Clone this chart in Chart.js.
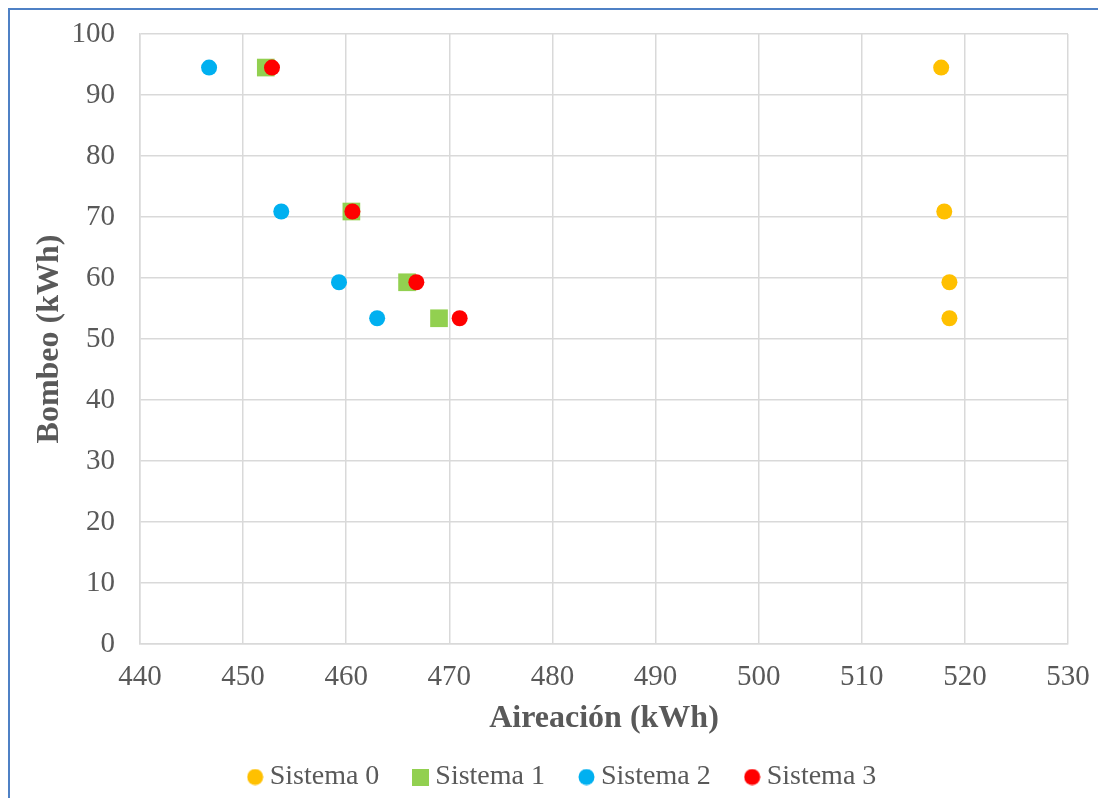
<!DOCTYPE html>
<html>
<head>
<meta charset="utf-8">
<script src="https://cdn.jsdelivr.net/npm/chart.js@4.4.1/dist/chart.umd.min.js"></script>
<style>
  html, body { margin: 0; padding: 0; background: #ffffff; overflow: hidden; }
  #frame { position: absolute; left: 8px; top: 8px; width: 3000px; height: 3000px;
           border-left: 2px solid #4f81c5; border-top: 2px solid #4f81c5; }
  #c { position: absolute; left: 0; top: 0; }
</style>
</head>
<body>
<div id="frame"></div>
<canvas id="c" width="1098" height="798"></canvas>
<script>
const seriesNames = ['Sistema 0', 'Sistema 1', 'Sistema 2', 'Sistema 3'];
const bombeo      = [94.5, 70.9, 59.3, 53.4];
const aireacion0  = [517.7, 518.0, 518.5, 518.5];
const aireacion1  = [452.2, 460.5, 465.9, 469.0];
const aireacion2  = [446.7, 453.7, 459.3, 463.0];
const aireacion3  = [452.8, 460.6, 466.8, 471.0];
const xTicks = [440, 450, 460, 470, 480, 490, 500, 510, 520, 530];
const yTicks = [0, 10, 20, 30, 40, 50, 60, 70, 80, 90, 100];

const colors = ['#FFC000', '#92D050', '#00B0F0', '#FF0000'];
const styles = ['circle', 'rect', 'circle', 'circle'];
const radii  = [8, 12.5, 8, 8];
const drawOrder = [3, 2, 1, 0];
const xs = [aireacion0, aireacion1, aireacion2, aireacion3];

function toPts(xArr) { return xArr.map((x, i) => ({ x: x, y: bombeo[i] })); }

function markerCanvas(style, color) {
  const cv = document.createElement('canvas');
  cv.width = 17; cv.height = 17;
  const g = cv.getContext('2d');
  g.fillStyle = color;
  if (style === 'rect') { g.fillRect(0, 0, 17, 17); }
  else { g.beginPath(); g.arc(8.5, 8.5, 8, 0, Math.PI * 2); g.fill(); }
  return cv;
}

const datasets = seriesNames.map((name, k) => ({
  label: name,
  data: toPts(xs[k]),
  pointStyle: styles[k],
  pointRadius: radii[k],
  pointHoverRadius: radii[k],
  backgroundColor: colors[k],
  borderColor: colors[k],
  borderWidth: 0,
  showLine: false,
  order: drawOrder[k]
}));

const tickFont = { family: 'Liberation Serif', size: 29 };
const titleFont = { family: 'Liberation Serif', size: 32, weight: 'bold' };
const gray = '#595959';
const gridColor = '#d9d9d9';
const noTick = 'rgba(0,0,0,0)';

new Chart(document.getElementById('c'), {
  type: 'scatter',
  data: { datasets: datasets },
  options: {
    responsive: false,
    animation: false,
    devicePixelRatio: 1,
    layout: { padding: { left: 63, right: 30, top: 34, bottom: -3 } },
    plugins: {
      tooltip: { enabled: false },
      legend: {
        position: 'bottom',
        labels: {
          font: { family: 'Liberation Serif', size: 28 },
          color: gray,
          usePointStyle: true,
          boxWidth: 1,
          boxHeight: 17,
          padding: 41,
          sort: (a, b) => a.datasetIndex - b.datasetIndex,
          generateLabels: (chart) => {
            const items = Chart.defaults.plugins.legend.labels.generateLabels(chart);
            items.forEach(it => {
              const k = it.datasetIndex;
              it.pointStyle = markerCanvas(styles[k], colors[k]);
            });
            return items;
          }
        }
      }
    },
    scales: {
      x: {
        type: 'linear',
        min: 440, max: 530,
        afterBuildTicks: (s) => { s.ticks = xTicks.map(v => ({ value: v })); },
        afterFit: (s) => { s.height = 78; },
        ticks: { font: tickFont, color: gray, padding: 3 },
        grid: { color: gridColor, lineWidth: 1.5, drawTicks: true, tickLength: 13, tickColor: noTick },
        border: { color: gridColor, width: 1.5 },
        title: { display: true, text: 'Aireación (kWh)', font: titleFont, color: gray, padding: { top: 0, bottom: -16 } }
      },
      y: {
        type: 'linear',
        min: 0, max: 100,
        afterBuildTicks: (s) => { s.ticks = yTicks.map(v => ({ value: v })); },
        afterFit: (s) => { s.width = 77; },
        ticks: { font: tickFont, color: gray, padding: 3 },
        grid: { color: gridColor, lineWidth: 1.5, drawTicks: true, tickLength: 22, tickColor: noTick },
        border: { color: gridColor, width: 1.5 },
        title: { display: true, text: 'Bombeo (kWh)', font: titleFont, color: gray, padding: { top: -32, bottom: 0 } }
      }
    }
  }
});
</script>
</body>
</html>
